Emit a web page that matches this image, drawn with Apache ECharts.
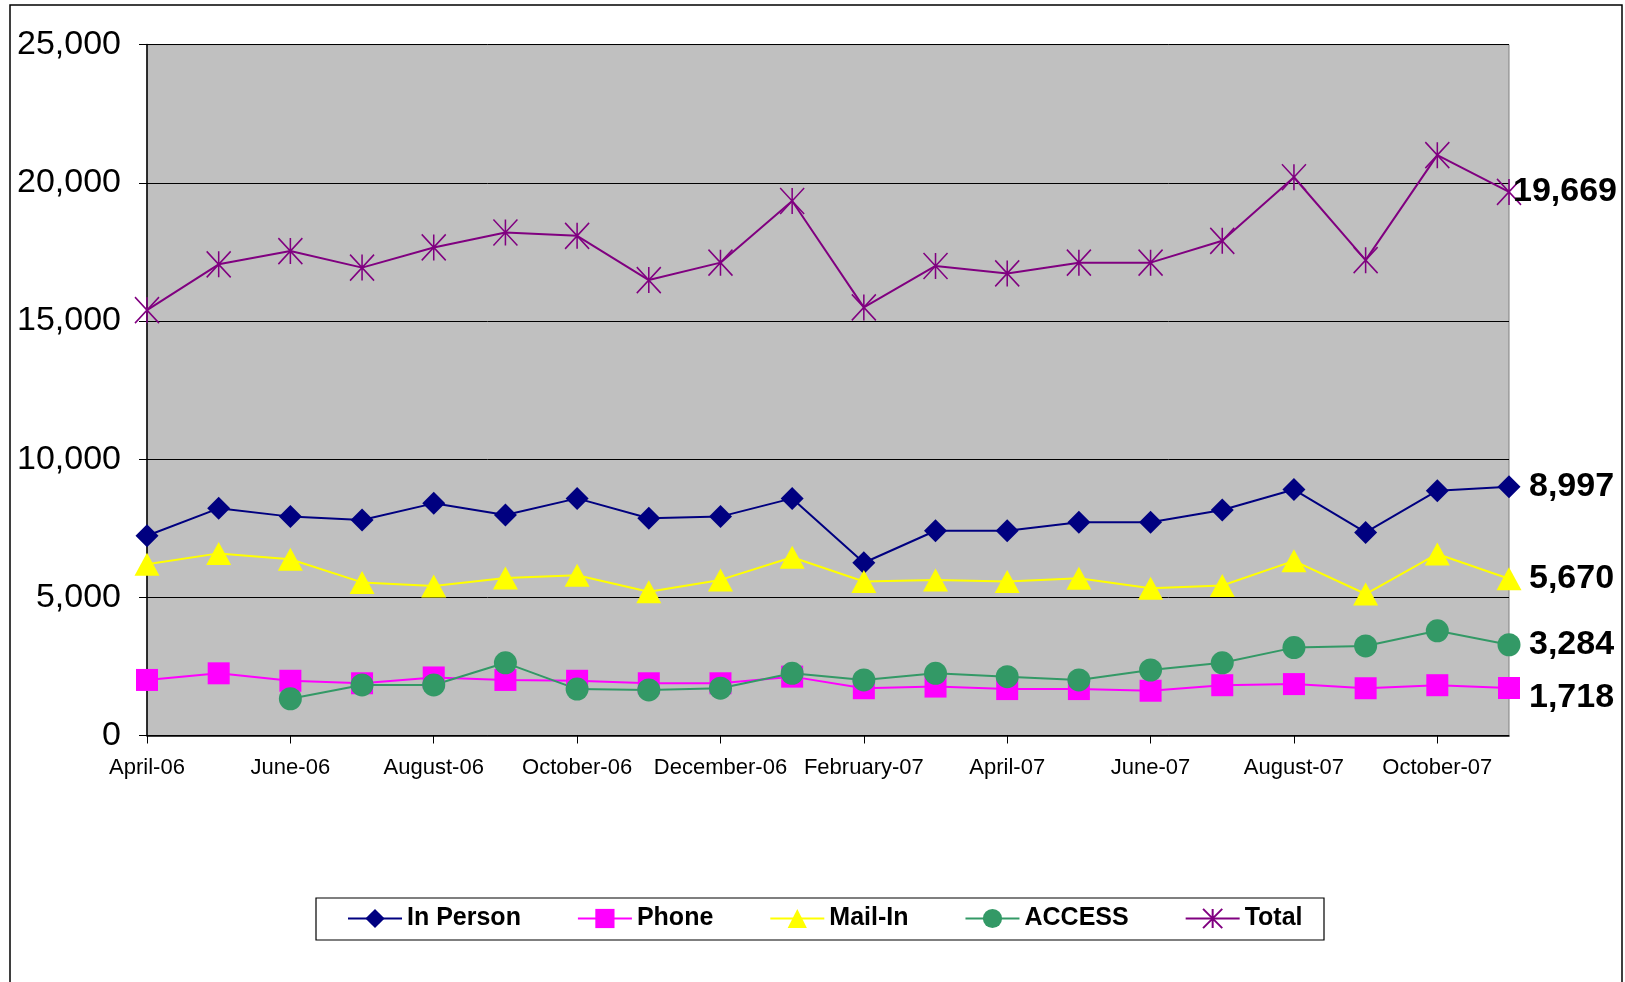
<!DOCTYPE html>
<html><head><meta charset="utf-8">
<script src="https://cdn.jsdelivr.net/npm/echarts@6/dist/echarts.min.js"></script>
<style>html,body{margin:0;padding:0;background:#fff}#c{width:1625px;height:982px}</style>
</head><body><div id="c"></div>
<script>
const months = ['April-06','May-06','June-06','July-06','August-06','September-06','October-06','November-06','December-06','January-07','February-07','March-07','April-07','May-07','June-07','July-07','August-07','September-07','October-07','November-07'];
const inPerson = [7230,8220,7920,7800,8400,7980,8580,7860,7920,8580,6250,7410,7410,7720,7720,8160,8900,7350,8860,8997];
const phone = [2010,2250,1980,1890,2100,2010,1980,1890,1890,2130,1710,1770,1680,1680,1620,1820,1860,1710,1820,1718];
const mailIn = [6200,6590,6380,5540,5410,5700,5800,5200,5630,6450,5570,5630,5570,5690,5330,5430,6320,5120,6570,5670];
const access = [null,null,1330,1830,1830,2630,1680,1650,1710,2250,2010,2250,2130,2010,2370,2630,3180,3240,3790,3284];
const total = [15390,17050,17530,16930,17660,18200,18080,16480,17110,19340,15490,16990,16720,17110,17110,17900,20200,17200,21000,19669];
const yTicks = [0,5000,10000,15000,20000,25000];

const FONT = 'Liberation Sans, Arial, sans-serif';
const fmt = v => Number(v).toLocaleString('en-US');
function endLab(dist, off){
  return {show:true, distance:dist, offset:off||[0,0], formatter:p=>fmt(p.value),
    fontFamily:FONT, fontWeight:'bold', fontSize:34, color:'#000'};
}
const chart = echarts.init(document.getElementById('c'), null, {renderer:'canvas'});
chart.setOption({
  animation:false,
  backgroundColor:'#fff',
  graphic:[{type:'rect', shape:{x:10,y:5,width:1612,height:1000}, style:{fill:'none',stroke:'#000',lineWidth:1.5}, silent:true, z:-10},
           {type:'rect', shape:{x:316,y:898,width:1008,height:42}, style:{fill:'#fff',stroke:'#000',lineWidth:1.2}, silent:true, z:-5}],
  grid:{left:147,right:116,top:44.6,bottom:246.5,show:true,backgroundColor:'#C0C0C0',borderColor:'#808080',borderWidth:1},
  legend:{left:342,top:901,itemWidth:54,itemHeight:24,itemGap:56,
    textStyle:{fontFamily:FONT,fontWeight:'bold',fontSize:25,color:'#000'},
    data:['In Person','Phone','Mail-In','ACCESS','Total']},
  xAxis:{type:'category',data:months,boundaryGap:false,
    axisLine:{lineStyle:{color:'#000',width:1.5}},
    axisTick:{show:true,interval:1,length:8,lineStyle:{color:'#000'}},
    axisLabel:{interval:1,margin:21,fontFamily:FONT,fontSize:22,color:'#000'},
    splitLine:{show:false}},
  yAxis:{type:'value',min:0,max:25000,interval:5000,
    axisLine:{show:true,lineStyle:{color:'#000',width:1.5}},
    axisTick:{show:true,length:8,lineStyle:{color:'#000'}},
    axisLabel:{margin:26,fontFamily:FONT,fontSize:34,color:'#000',formatter:v=>fmt(v)},
    splitLine:{lineStyle:{color:'#000',width:1}}},
  series:[
    {name:'In Person',type:'line',data:inPerson,symbol:'diamond',symbolSize:23,
     itemStyle:{color:'#000080'},lineStyle:{color:'#000080',width:2},endLabel:endLab(20)},
    {name:'Phone',type:'line',data:phone,symbol:'rect',symbolSize:22,
     itemStyle:{color:'#FF00FF'},lineStyle:{color:'#FF00FF',width:2},endLabel:endLab(20,[0,10])},
    {name:'Mail-In',type:'line',data:mailIn,symbol:'triangle',symbolSize:[25,23],
     itemStyle:{color:'#FFFF00'},lineStyle:{color:'#FFFF00',width:2},endLabel:endLab(20)},
    {name:'ACCESS',type:'line',data:access,symbol:'circle',symbolSize:23,connectNulls:false,
     itemStyle:{color:'#339966'},lineStyle:{color:'#339966',width:2},endLabel:endLab(20)},
    {name:'Total',type:'line',data:total,symbol:'path://M0 0L24 26M24 0L0 26M12 0L12 26',symbolSize:[24,26],
     itemStyle:{color:'#800080',borderColor:'#800080',borderWidth:1.6},lineStyle:{color:'#800080',width:2},endLabel:endLab(4)}
  ]
});
</script></body></html>
